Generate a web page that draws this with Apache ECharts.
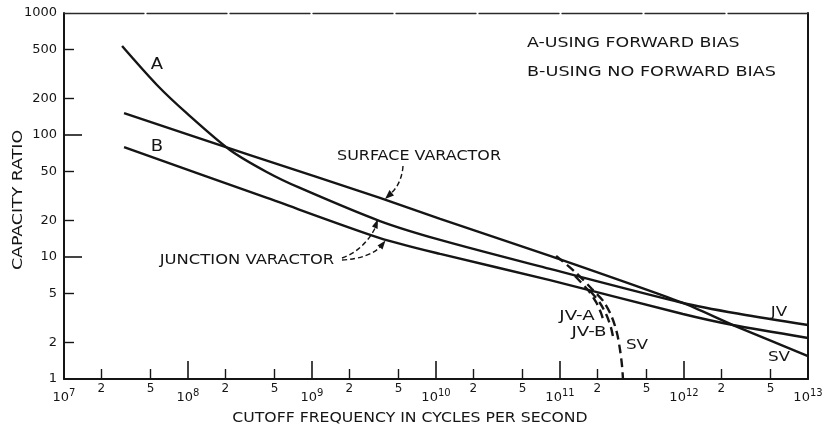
<!DOCTYPE html>
<html>
<head>
<meta charset="utf-8">
<script src="https://cdn.jsdelivr.net/npm/echarts@6/dist/echarts.min.js"></script>
<style>
html,body{margin:0;padding:0;background:#fff;}
#chart{width:827px;height:428px;}
</style>
</head>
<body>
<div id="chart"></div>
<script>
// ---- Data ----
// Surface varactor (solid)
const svX  = [3.05e7, 3.16e8, 3.53e9, 1.08e10, 8.3e10, 9.8e11, 2.48e12, 1e13];
const svY  = [151, 68.5, 30.5, 20.5, 10.2, 4.2, 2.77, 1.54];
// Junction varactor A - using forward bias (solid)
const jvaX = [2.94e7, 5.62e7, 9.76e7, 2.18e8, 4.31e8, 8.0e8, 3.53e9, 1.08e10, 8.3e10, 9.8e11, 2.83e12, 1e13];
const jvaY = [536, 257, 151, 75.4, 49.8, 36.8, 19.7, 13.8, 7.98, 4.2, 3.41, 2.77];
// Junction varactor B - using no forward bias (solid)
const jvbX = [3.05e7, 4.34e8, 3.53e9, 1.08e10, 8.3e10, 9.8e11, 2.48e12, 1e13];
const jvbY = [79.7, 30.5, 14.3, 10.6, 6.47, 3.41, 2.77, 2.17];
// Dashed branches
const svdX  = [9.3e10, 1.30e11, 1.81e11, 2.26e11, 2.62e11, 2.88e11, 3.05e11, 3.16e11, 3.22e11];
const svdY  = [10.2, 7.67, 5.47, 4.28, 3.22, 2.38, 1.73, 1.30, 1.0];
const jvadX = [1.32e11, 1.68e11, 1.95e11, 2.14e11, 2.26e11];
const jvadY = [6.99, 5.36, 4.28, 3.48, 2.93];
const jvbdX = [1.75e11, 2.10e11, 2.39e11, 2.58e11, 2.67e11];
const jvbdY = [5.26, 4.20, 3.28, 2.62, 2.25];

// Tick labels
const xMajorExps = [7, 8, 9, 10, 11, 12, 13];
const xMinorMantissas = [2, 5];
const yTickLabels = [1, 2, 5, 10, 20, 50, 100, 200, 500, 1000];
const yMajorTicks = [10, 100];
const yMinorTicks = [2, 5, 20, 50, 200, 500];

// ---- Build ----
const zip = (xs, ys) => xs.map((x, i) => [x, ys[i]]);
const xMinorLog = [];
xMajorExps.slice(0, -1).forEach(e => xMinorMantissas.forEach(m => xMinorLog.push(e + Math.log10(m))));
const FONT = '"DejaVu Sans", sans-serif';
const INK = '#151515';

const chart = echarts.init(document.getElementById('chart'), null, {renderer: 'canvas'});

function line(name, data, dashed, smooth) {
  return {
    name, type: 'line', data, xAxisIndex: 0, yAxisIndex: 0,
    showSymbol: false, symbol: 'none', smooth: smooth,
    lineStyle: {color: INK, width: 2.4, type: dashed ? [9, 5] : 'solid'},
    silent: true, z: 3
  };
}

function txt(text, x, y, opts) {
  opts = opts || {};
  return {
    type: 'text', x, y, rotation: opts.rot || 0, scaleX: opts.sx || 1.2, z: 10,
    style: {
      text, fill: INK, font: (opts.size || 14) + 'px ' + FONT,
      textAlign: opts.align || 'center', textVerticalAlign: 'middle'
    }
  };
}
function dashCurve(p0, c1, c2, p1) {
  return {type: 'bezierCurve', z: 10,
    shape: {x1: p0[0], y1: p0[1], cpx1: c1[0], cpy1: c1[1], cpx2: c2[0], cpy2: c2[1], x2: p1[0], y2: p1[1]},
    style: {stroke: INK, lineWidth: 1.4, lineDash: [5, 3], fill: null}};
}
function head(pts) {
  return {type: 'polygon', z: 10, shape: {points: pts}, style: {fill: INK}};
}
const hidden = {axisTick: {show: false}, axisLabel: {show: false}, splitLine: {show: false}, minorTick: {show: false}};

const option = {
  animation: false,
  backgroundColor: '#fff',
  grid: {left: 64, right: 19, top: 13, bottom: 49, show: false},
  xAxis: [
    Object.assign({type: 'log', logBase: 10, min: 1e7, max: 1e13, position: 'bottom',
      axisLine: {show: true, onZero: false, lineStyle: {color: INK, width: 2}}}, hidden),
    {type: 'value', min: 7, max: 13, position: 'bottom', axisLine: {show: false}, splitLine: {show: false},
     axisTick: {show: true, inside: true, length: 18, customValues: xMajorExps, lineStyle: {color: INK, width: 1.6}},
     axisLabel: {show: true, customValues: xMajorExps, margin: 9,
       formatter: v => '{b|10}{s|' + Math.round(v) + '}',
       rich: {
         b: {fontFamily: FONT, fontSize: 13, color: INK, lineHeight: 16, verticalAlign: 'bottom'},
         s: {fontFamily: FONT, fontSize: 10, color: INK, lineHeight: 16, verticalAlign: 'top'}
       }}},
    {type: 'value', min: 7, max: 13, position: 'bottom', axisLine: {show: false}, splitLine: {show: false},
     axisTick: {show: true, inside: true, length: 10, customValues: xMinorLog, lineStyle: {color: INK, width: 1.4}},
     axisLabel: {show: true, customValues: xMinorLog, margin: 4, fontFamily: FONT, fontSize: 12, color: INK,
       formatter: v => String(Math.round(Math.pow(10, v - Math.floor(v + 1e-9))))}},
    Object.assign({type: 'log', logBase: 10, min: 1e7, max: 1e13, position: 'top',
      axisLine: {show: true, onZero: false, lineStyle: {color: '#2a2a2a', width: 1.3, type: [80, 3]}}}, hidden)
  ],
  yAxis: [
    Object.assign({type: 'log', logBase: 10, min: 1, max: 1000, position: 'left',
      axisLine: {show: true, onZero: false, lineStyle: {color: INK, width: 2}}}, hidden),
    {type: 'value', min: 0, max: 3, position: 'left', axisLine: {show: false}, splitLine: {show: false},
     axisTick: {show: true, inside: true, length: 18, customValues: yMajorTicks.map(Math.log10), lineStyle: {color: INK, width: 1.6}},
     axisLabel: {show: true, customValues: yTickLabels.map(Math.log10), margin: 7, fontFamily: FONT, fontSize: 13, color: INK,
       formatter: v => String(Math.round(Math.pow(10, v)))}},
    {type: 'value', min: 0, max: 3, position: 'left', axisLine: {show: false}, splitLine: {show: false},
     axisTick: {show: true, inside: true, length: 10, customValues: yMinorTicks.map(Math.log10), lineStyle: {color: INK, width: 1.4}},
     axisLabel: {show: false}},
    Object.assign({type: 'log', logBase: 10, min: 1, max: 1000, position: 'right',
      axisLine: {show: true, onZero: false, lineStyle: {color: INK, width: 2}}}, hidden)
  ],
  series: [
    line('SV', zip(svX, svY), false, 0.2),
    line('JV-A', zip(jvaX, jvaY), false, 0.3),
    line('JV-B', zip(jvbX, jvbY), false, 0.25),
    line('SV dashed', zip(svdX, svdY), true, 0.3),
    line('JV-A dashed', zip(jvadX, jvadY), true, 0.3),
    line('JV-B dashed', zip(jvbdX, jvbdY), true, 0.3)
  ],
  graphic: [
    txt('A-USING FORWARD BIAS', 527, 43, {align: 'left', sx: 1.24}),
    txt('B-USING NO FORWARD BIAS', 527, 72, {align: 'left', sx: 1.26}),
    txt('A', 157, 65, {size: 15}),
    txt('B', 157, 147, {size: 15}),
    txt('SURFACE VARACTOR', 419, 156, {sx: 1.14}),
    txt('JUNCTION VARACTOR', 247, 260, {sx: 1.17}),
    txt('JV-A', 577, 316, {sx: 1.3}),
    txt('JV-B', 589, 332, {sx: 1.3}),
    txt('SV', 637, 345, {sx: 1.2}),
    txt('JV', 779, 312, {sx: 1.2}),
    txt('SV', 779, 357, {sx: 1.2}),
    txt('CUTOFF FREQUENCY IN CYCLES PER SECOND', 410, 418, {sx: 1.12}),
    txt('CAPACITY RATIO', 18, 200, {rot: Math.PI / 2, sx: 1.24}),
    dashCurve([403, 166], [402, 180], [396, 190], [388, 196]),
    head([[385, 199], [394, 195.5], [389.5, 190]]),
    dashCurve([342, 258], [358, 253], [371, 238], [376, 226]),
    head([[378, 219], [377.6, 229], [372, 226.5]]),
    dashCurve([342, 260], [360, 259], [374, 254], [381, 246]),
    head([[385.5, 240.5], [382.5, 249.5], [377.5, 245.5]])
  ]
};
chart.setOption(option);
</script>
</body>
</html>
